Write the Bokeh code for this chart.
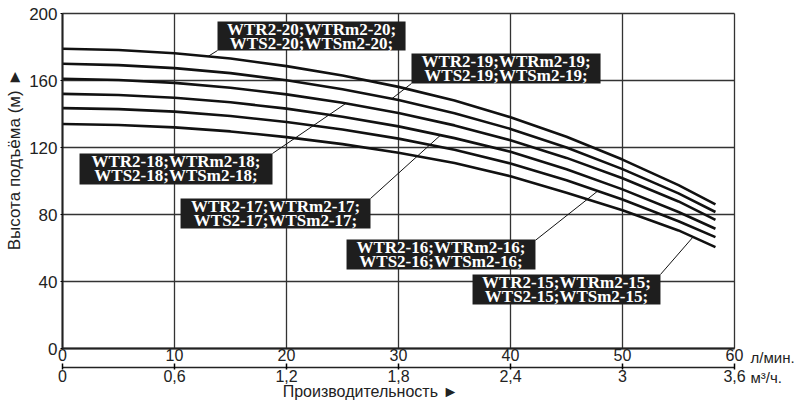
import numpy as np
from bokeh.plotting import figure
from bokeh.models import Label, LinearAxis, FixedTicker, Range1d
from bokeh.core.properties import value
from bokeh.embed import file_html
from bokeh.resources import INLINE

# ---- data ----
flow = [0, 5, 10, 15, 20, 25, 30, 35, 40, 45, 50, 55, 58.3]   # л/мин
h20 = [179, 178.2, 176.3, 173.1, 168.6, 163.0, 156.2, 148.0, 138.1, 126.4, 112.8, 97.5, 86]
h19 = [170, 169.2, 167.4, 164.4, 160.1, 154.8, 148.3, 140.5, 131.1, 120.0, 107.1, 92.6, 81.5]
h18 = [161, 160.3, 158.6, 155.7, 151.7, 146.7, 140.6, 133.2, 124.3, 113.8, 101.6, 87.8, 76.8]
h17 = [152, 151.3, 149.7, 147.0, 143.2, 138.4, 132.6, 125.6, 117.5, 107.0, 95.0, 81.5, 71.5]
h16 = [143.5, 142.9, 141.4, 138.8, 135.2, 130.7, 125.3, 118.7, 110.5, 100.5, 89.0, 76.0, 66.5]
h15 = [134, 133.4, 132.0, 129.6, 126.2, 122.0, 116.9, 110.7, 102.8, 93.0, 82.5, 70.5, 60.5]
curves = [h20, h19, h18, h17, h16, h15]
stages = [20, 19, 18, 17, 16, 15]

x_ticks = [0, 10, 20, 30, 40, 50, 60]
m3h_labels = ["0", "0,6", "1,2", "1,8", "2,4", "3", "3,6"]
y_ticks = [0, 40, 80, 120, 160, 200]

# label boxes (data units), leader start and leader end flow
box_left = [13.84, 31.16, 1.52, 10.54, 25.36, 36.61]
box_right = [30.63, 48.04, 18.75, 27.5, 42.23, 53.39]
box_top = [195.22, 176.12, 116.42, 89.55, 65.07, 44.18]
box_bottom = [177.91, 158.21, 97.91, 71.64, 47.16, 26.27]
lead_x0 = [13.84, 31.16, 18.75, 27.5, 42.23, 53.39]
lead_y0 = [177.91, 158.21, 116.42, 89.55, 64.6, 44.18]
lead_x1 = [13.0, 29.4, 25.3, 33.75, 47.8, 56.3]

PX_X, PX_Y = 11.2, 1.675          # pixels per data unit
X_MAX, Y_MIN, Y_MAX = 60, 0, 200

p = figure(width=800, height=402,
           x_range=Range1d(-62 / PX_X, (800 - 62) / PX_X),
           y_range=Range1d(-(402 - 348) / PX_Y, 348 / PX_Y),
           output_backend="svg", toolbar_location=None,
           min_border_left=0, min_border_right=0,
           min_border_top=0, min_border_bottom=0)
p.title.visible = False
p.background_fill_color = "white"
p.border_fill_color = "white"
p.outline_line_color = None
p.xgrid.visible = False
p.ygrid.visible = False

# grid lines and chart border
p.segment(x0=x_ticks, y0=[Y_MIN] * len(x_ticks), x1=x_ticks, y1=[Y_MAX] * len(x_ticks),
          line_color="#333333", line_width=1.3)
p.segment(x0=[0] * len(y_ticks), y0=y_ticks, x1=[X_MAX] * len(y_ticks), y1=y_ticks,
          line_color="#333333", line_width=1.3)

# y axis at x = 0
ya = p.yaxis[0]
ya.fixed_location = 0
ya.bounds = (Y_MIN, Y_MAX)
ya.ticker = FixedTicker(ticks=y_ticks)
ya.axis_line_width = 2
ya.axis_line_color = "#222222"
ya.major_tick_out = 2
ya.major_tick_in = 0
ya.minor_tick_line_color = None
ya.major_label_standoff = 3
ya.major_label_text_font = "Liberation Sans"
ya.major_label_text_font_size = "17px"
ya.major_label_text_color = "#222222"

# x axis 1 (л/мин) at y = 0
xa = p.xaxis[0]
xa.fixed_location = 0
xa.bounds = (0, X_MAX)
xa.ticker = FixedTicker(ticks=x_ticks)
xa.axis_line_width = 2
xa.axis_line_color = "#222222"
xa.major_tick_out = 0
xa.major_tick_in = 0
xa.minor_tick_line_color = None
xa.major_label_standoff = 0
xa.major_label_text_font = "Liberation Sans"
xa.major_label_text_font_size = "16px"
xa.major_label_text_color = "#222222"

# x axis 2 (м3/ч), just under the first one
xa2 = LinearAxis(ticker=FixedTicker(ticks=x_ticks), fixed_location=-19 / PX_Y, bounds=(0, X_MAX),
                 major_label_overrides={t: s for t, s in zip(x_ticks, m3h_labels)})
xa2.axis_line_width = 1.5
xa2.axis_line_color = "#222222"
xa2.major_tick_out = 2
xa2.major_tick_in = 4
xa2.major_tick_line_width = 1.5
xa2.minor_tick_line_color = None
xa2.major_label_standoff = 0
xa2.major_label_text_font = "Liberation Sans"
xa2.major_label_text_font_size = "16px"
xa2.major_label_text_color = "#222222"
p.add_layout(xa2, "below")

# curves
for h in curves:
    p.line(flow, h, line_color="#111111", line_width=2.6)

# leader lines
for i, h in enumerate(curves):
    yend = float(np.interp(lead_x1[i], flow, h))
    p.segment(x0=[lead_x0[i]], y0=[lead_y0[i]], x1=[lead_x1[i]], y1=[yend],
              line_color="#111111", line_width=1)

# model label boxes and texts
p.quad(left=box_left, right=box_right, top=box_top, bottom=box_bottom,
       fill_color="#1e1e1e", line_color=None)
cx = [(l + r) / 2 for l, r in zip(box_left, box_right)]
line1 = [f"WTR2-{n};WTRm2-{n};" for n in stages]
line2 = [f"WTS2-{n};WTSm2-{n};" for n in stages]
p.text(x=cx, y=[t - 8.3 / PX_Y for t in box_top], text=line1,
       text_font=value("Liberation Serif"), text_font_style="bold",
       text_font_size="17px", text_color="white",
       text_align="center", text_baseline="alphabetic")
p.text(x=cx, y=[t - 21.6 / PX_Y for t in box_top], text=line2,
       text_font=value("Liberation Serif"), text_font_style="bold",
       text_font_size="17px", text_color="white",
       text_align="center", text_baseline="alphabetic")

# axis titles and units
p.add_layout(Label(x=-48 / PX_X, y=(348 - 159) / PX_Y, text="Высота подъёма (м) ►",
                   angle=np.pi / 2, text_font="Liberation Sans",
                   text_font_size="17px", text_color="#222222",
                   text_align="center", text_baseline="middle"))
p.add_layout(Label(x=61.43, y=-9 / PX_Y, text="л/мин.", text_font="Liberation Sans",
                   text_font_size="15px", text_color="#222222",
                   text_align="left", text_baseline="middle"))
p.add_layout(Label(x=61.43, y=-29 / PX_Y, text="м³/ч.", text_font="Liberation Sans",
                   text_font_size="15px", text_color="#222222",
                   text_align="left", text_baseline="middle"))
p.add_layout(Label(x=27.5, y=-43 / PX_Y, text="Производительность ►", text_font="Liberation Sans",
                   text_font_size="16px", text_color="#222222",
                   text_align="center", text_baseline="middle"))

open("out.html", "w").write(file_html(p, INLINE))
